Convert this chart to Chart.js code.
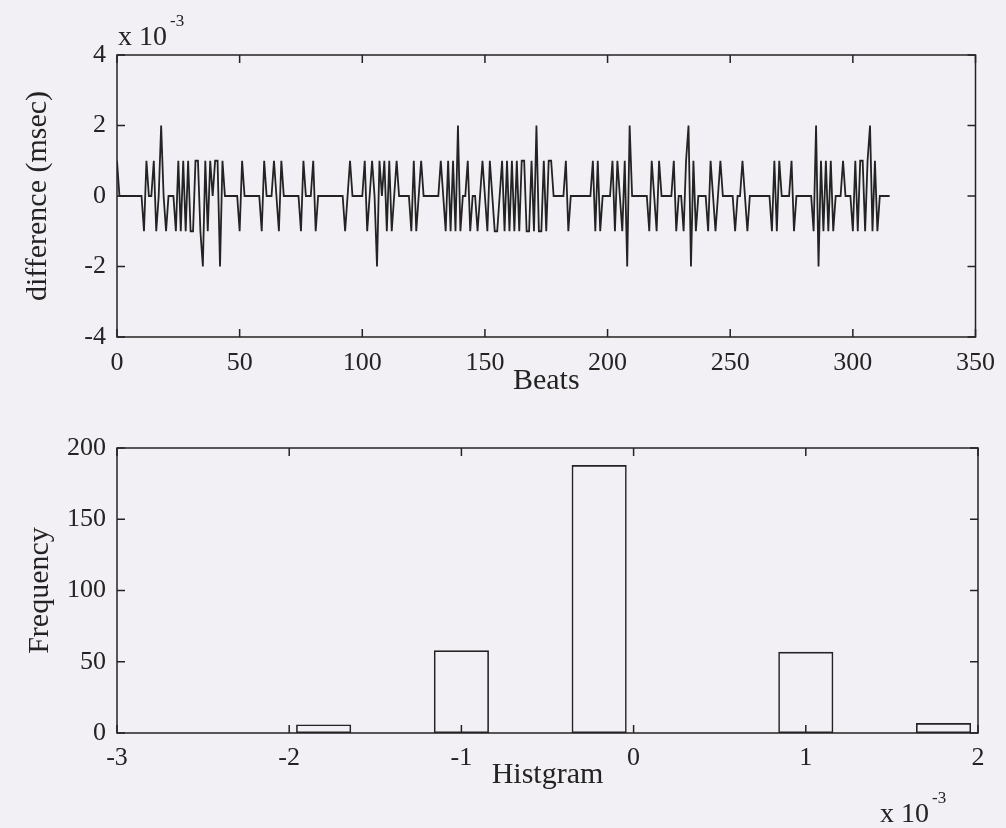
<!DOCTYPE html>
<html>
<head>
<meta charset="utf-8">
<script src="https://cdn.jsdelivr.net/npm/chart.js@4.4.1/dist/chart.umd.min.js"></script>
<style>
  html, body { margin: 0; padding: 0; background: #f2f0f4; }
  #wrap { position: relative; width: 1006px; height: 828px; }
  canvas { position: absolute; left: 0; }
  #diff-chart { top: 0; }
  #hist-chart { top: 420px; }
</style>
</head>
<body>
<div id="wrap">
  <canvas id="diff-chart" width="1006" height="420"></canvas>
  <canvas id="hist-chart" width="1006" height="408"></canvas>
</div>
<script>
// difference per beat, in units of 10^-3 msec, beats 0..315
const diffValues = [
  1, 0, 0, 0, 0, 0, 0, 0, 0, 0, 0, -1, 1, 0, 0, 1, -1, 0, 2, 0,
  -1, 0, 0, 0, -1, 1, -1, 1, -1, 1, -1, -1, 1, 1, -1, -2, 1, -1, 1,
  0, 1, 1, -2, 1, 0, 0, 0, 0, 0, 0, -1, 1, 0, 0, 0, 0, 0, 0, 0,
  -1, 1, 0, 0, 0, 1, 0, -1, 1, 0, 0, 0, 0, 0, 0, 0, -1, 1, 0, 0,
  0, 1, -1, 0, 0, 0, 0, 0, 0, 0, 0, 0, 0, 0, -1, 0, 1, 0, 0,
  0, 0, 0, 1, -1, 0, 1, 0, -2, 1, 0, 1, -1, 1, -1, 0, 1, 0, 0, 0,
  0, 0, -1, 1, -1, 0, 1, 0, 0, 0, 0, 0, 0, 0, 1, 0, -1, 1, -1, 1,
  -1, 2, -1, 0, 0, 1, -1, 0, 0, -1, 0, 1, 0, -1, 1, 0, -1, -1, 0, 1,
  -1, 1, -1, 1, -1, 1, -1, 1, 1, -1, -1, 1, -1, 2, -1, -1, 1, -1, 1, 1,
  0, 0, 0, 0, 0, 1, -1, 0, 0, 0, 0, 0, 0, 0, 0, 0, 1, -1, 1,
  -1, 0, 0, 0, 0, 1, -1, 1, 0, -1, 1, -2, 2, 0, 0, 0, 0, 0, 0, 0,
  -1, 1, 0, -1, 1, 0, 0, 0, 0, 0, 1, -1, 0, 0, -1, 1, 2, -2, 1,
  -1, 0, 0, 0, 0, -1, 1, 0, -1, 0, 1, 0, 0, 0, 0, 0, -1, 0, 0, 1,
  0, -1, 0, 0, 0, 0, 0, 0, 0, 0, 0, -1, 1, -1, 1, 0, 0, 0, 0, 1,
  -1, 0, 0, 0, 0, 0, 0, 0, -1, 2, -2, 1, -1, 1, -1, 1, -1, 0, 0,
  0, 1, 0, 0, 0, -1, 1, -1, 1, 1, -1, 1, 2, -1, 1, -1, 0, 0, 0, 0, 0
];

// histogram bins (centres in 10^-3) and counts
const histCenters = [-1.8, -1.4, -1.0, -0.6, -0.2, 0.2, 0.6, 1.0, 1.4, 1.8];
const histCounts = [6, 0, 58, 0, 188, 0, 0, 57, 0, 7];

// axis ticks
const beatTicks = [0, 50, 100, 150, 200, 250, 300, 350];
const diffTicks = [-4, -2, 0, 2, 4];
const histXTicks = [-3, -2, -1, 0, 1, 2];
const freqTicks = [0, 50, 100, 150, 200];

const ink = "#232323";
const serif = "'Liberation Serif', 'DejaVu Serif', serif";
const tickFont = { family: serif, size: 26 };
const titleFont = { family: serif, size: 30 };

// MATLAB style box with inward ticks + "x 10^-3" exponent
const boxTicks = {
    id: "boxTicks",
    afterDraw(chart, args, opts) {
        const { ctx, chartArea: a, scales } = chart;
        const len = 8;
        ctx.save();
        ctx.strokeStyle = ink;
        ctx.lineWidth = 1.5;
        ctx.strokeRect(a.left, a.top, a.right - a.left, a.bottom - a.top);
        ctx.beginPath();
        scales.x.ticks.forEach(t => {
            const px = scales.x.getPixelForValue(t.value);
            ctx.moveTo(px, a.bottom); ctx.lineTo(px, a.bottom - len);
            ctx.moveTo(px, a.top); ctx.lineTo(px, a.top + len);
        });
        scales.y.ticks.forEach(t => {
            const py = scales.y.getPixelForValue(t.value);
            ctx.moveTo(a.left, py); ctx.lineTo(a.left + len, py);
            ctx.moveTo(a.right, py); ctx.lineTo(a.right - len, py);
        });
        ctx.stroke();

        if (opts.exp) {
            ctx.fillStyle = ink;
            ctx.textBaseline = "alphabetic";
            ctx.textAlign = "left";
            ctx.font = "28px " + serif;
            ctx.fillText("x 10", opts.exp.x, opts.exp.y);
            const w = ctx.measureText("x 10").width;
            ctx.font = "17px " + serif;
            ctx.fillText("-3", opts.exp.x + w + 3, opts.exp.y - 19);
        }
        ctx.restore();
    }
};

function fixedTicks(list) {
    return function (scale) {
        scale.ticks = list.map(v => ({ value: v }));
    };
}

// ------------------ top: difference vs beats ------------------
new Chart(document.getElementById("diff-chart"), {
    type: "line",
    data: {
        datasets: [{
            data: diffValues.map((v, i) => ({ x: i, y: v })),
            borderColor: ink,
            borderWidth: 1.8,
            pointRadius: 0,
            tension: 0,
            fill: false
        }]
    },
    options: {
        responsive: false,
        animation: false,
        layout: { padding: { top: 55, right: 28, left: 0, bottom: 0 } },
        plugins: {
            legend: { display: false },
            tooltip: { enabled: false },
            boxTicks: { exp: { x: 118, y: 45 } }
        },
        scales: {
            x: {
                type: "linear",
                min: 0,
                max: 350,
                afterBuildTicks: fixedTicks(beatTicks),
                ticks: { font: tickFont, color: ink, padding: 11, maxRotation: 0 },
                grid: { display: false, drawTicks: false },
                border: { display: false },
                title: { display: true, text: "Beats", font: titleFont, color: ink, padding: { top: 0, bottom: 21 } },
                afterFit(s) { s.height = 83; }
            },
            y: {
                min: -4,
                max: 4,
                afterBuildTicks: fixedTicks(diffTicks),
                ticks: { font: tickFont, color: ink, padding: 11 },
                grid: { display: false, drawTicks: false },
                border: { display: false },
                title: { display: true, text: "difference (msec)", font: titleFont, color: ink, padding: { top: 20, bottom: 0 } },
                afterFit(s) { s.width = 117; }
            }
        }
    },
    plugins: [boxTicks]
});

// ------------------ bottom: histogram ------------------
new Chart(document.getElementById("hist-chart"), {
    type: "bar",
    data: {
        datasets: [{
            data: histCenters.map((c, i) => ({ x: c, y: histCounts[i] })),
            backgroundColor: "rgba(0,0,0,0)",
            borderColor: ink,
            borderWidth: 1.6,
            borderSkipped: false,
            barPercentage: 0.8,
            categoryPercentage: 1.0
        }]
    },
    options: {
        responsive: false,
        animation: false,
        layout: { padding: { top: 28, right: 28, left: 0, bottom: 0 } },
        plugins: {
            legend: { display: false },
            tooltip: { enabled: false },
            boxTicks: { exp: { x: 880, y: 402 } }
        },
        scales: {
            x: {
                type: "linear",
                min: -3,
                max: 2,
                offset: false,
                afterBuildTicks: fixedTicks(histXTicks),
                ticks: { font: tickFont, color: ink, padding: 10, maxRotation: 0 },
                grid: { display: false, drawTicks: false, offset: false },
                border: { display: false },
                title: { display: true, text: "Histgram", font: titleFont, color: ink, padding: { top: 0, bottom: 35 } },
                afterFit(s) { s.height = 95; }
            },
            y: {
                min: 0,
                max: 200,
                afterBuildTicks: fixedTicks(freqTicks),
                ticks: { font: tickFont, color: ink, padding: 11 },
                grid: { display: false, drawTicks: false },
                border: { display: false },
                title: { display: true, text: "Frequency", font: titleFont, color: ink, padding: { top: 22, bottom: 0 } },
                afterFit(s) { s.width = 117; }
            }
        }
    },
    plugins: [boxTicks]
});
</script>
</body>
</html>
